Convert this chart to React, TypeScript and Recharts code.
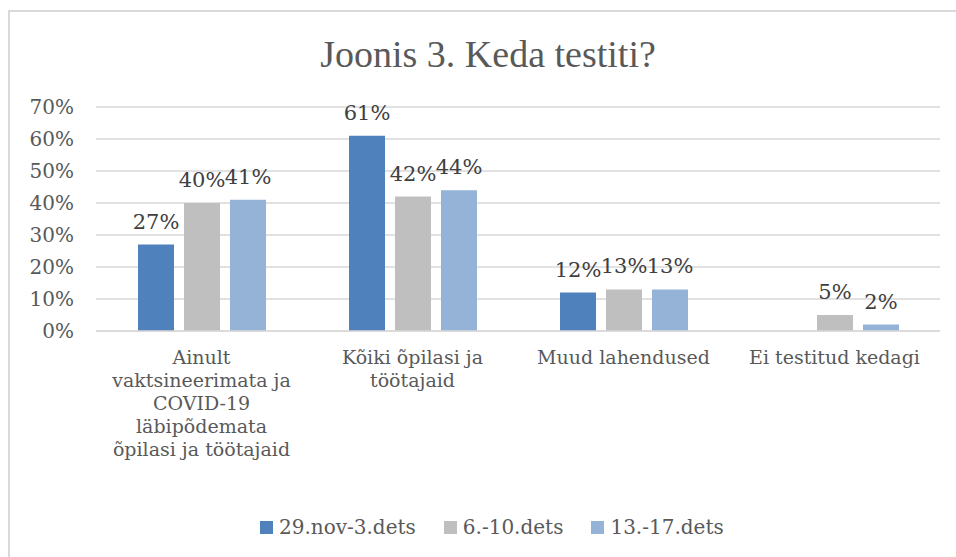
import React from "react";
import {
  BarChart,
  Bar,
  XAxis,
  YAxis,
  CartesianGrid,
  Legend,
  LabelList,
} from "recharts";

const categories = [
  "Ainult\nvaktsineerimata ja\nCOVID-19\nläbipõdemata\nõpilasi ja töötajaid",
  "Kõiki õpilasi ja\ntöötajaid",
  "Muud lahendused",
  "Ei testitud kedagi",
];
const week1 = [27, 61, 12, null];
const week2 = [40, 42, 13, 5];
const week3 = [41, 44, 13, 2];
const seriesNames = ["29.nov-3.dets", "6.-10.dets", "13.-17.dets"];
const yTicks = [0, 10, 20, 30, 40, 50, 60, 70];

const COLORS = ["#4f81bd", "#bfbfbf", "#95b3d7"];
const FONT = "'DejaVu Serif', serif";
const TEXT = "#595959";

const data = categories.map((c, i) => ({
  name: c,
  s0: week1[i],
  s1: week2[i],
  s2: week3[i],
}));

function CategoryTick(props: any) {
  const { x, y, payload } = props;
  const lines = String(payload.value).split("\n");
  return (
    <text
      x={x}
      y={y}
      textAnchor="middle"
      fill={TEXT}
      fontSize={19}
      fontFamily={FONT}
    >
      {lines.map((l: string, i: number) => (
        <tspan key={i} x={x} dy={i === 0 ? 25 : 23}>
          {l}
        </tspan>
      ))}
    </text>
  );
}

function LegendBox() {
  return (
    <div
      style={{
        display: "flex",
        alignItems: "center",
        paddingLeft: 260,
        height: 30,
        marginTop: 1,
        fontFamily: FONT,
        fontSize: 20,
        color: TEXT,
      }}
    >
      {seriesNames.map((n, i) => (
        <div
          key={n}
          style={{ display: "flex", alignItems: "center", marginRight: 28 }}
        >
          <span
            style={{
              width: 13,
              height: 13,
              background: COLORS[i],
              display: "inline-block",
              marginRight: 6,
            }}
          />
          <span>{n}</span>
        </div>
      ))}
    </div>
  );
}

export default function App() {
  return (
    <div
      style={{
        position: "absolute",
        left: 0,
        top: 0,
        width: 956,
        height: 557,
        background: "#fff",
        overflow: "hidden",
      }}
    >
      <div
        style={{
          position: "absolute",
          left: 8,
          top: 10,
          width: 960,
          height: 560,
          borderTop: "2px solid #d9d9d9",
          borderLeft: "2px solid #d9d9d9",
        }}
      />
      <div
        style={{
          position: "absolute",
          left: 0,
          top: 32,
          width: 976,
          textAlign: "center",
          fontFamily: "'Liberation Serif', serif",
          fontSize: 38,
          color: TEXT,
          lineHeight: "44px",
        }}
      >
        Joonis 3. Keda testiti?
      </div>
      <div style={{ position: "absolute", left: 0, top: 0 }}>
        <BarChart
          width={956}
          height={557}
          data={data}
          margin={{ top: 107, right: 16, bottom: 0, left: 0 }}
          barSize={36}
          barGap={10}
        >
          <CartesianGrid
            vertical={false}
            stroke="#d9d9d9"
            strokeWidth={1.5}
          />
          <XAxis
            dataKey="name"
            height={180}
            axisLine={{ stroke: "#d9d9d9", strokeWidth: 1.5 }}
            tickLine={false}
            interval={0}
            tick={<CategoryTick />}
          />
          <YAxis
            width={96}
            domain={[0, 70]}
            ticks={yTicks}
            axisLine={false}
            tickLine={false}
            tickMargin={16}
            tickFormatter={(v: number) => `${v}%`}
            tick={{ fill: TEXT, fontSize: 20, fontFamily: FONT }}
          />
          <Legend
            verticalAlign="bottom"
            height={46}
            content={<LegendBox />}
          />
          {["s0", "s1", "s2"].map((k, i) => (
            <Bar
              key={k}
              dataKey={k}
              name={seriesNames[i]}
              fill={COLORS[i]}
              isAnimationActive={false}
            >
              <LabelList
                dataKey={k}
                position="top"
                offset={16}
                fill="#404040"
                fontSize={21}
                fontFamily={FONT}
                formatter={(v: any) => (v == null ? "" : `${v}%`)}
              />
            </Bar>
          ))}
        </BarChart>
      </div>
    </div>
  );
}
